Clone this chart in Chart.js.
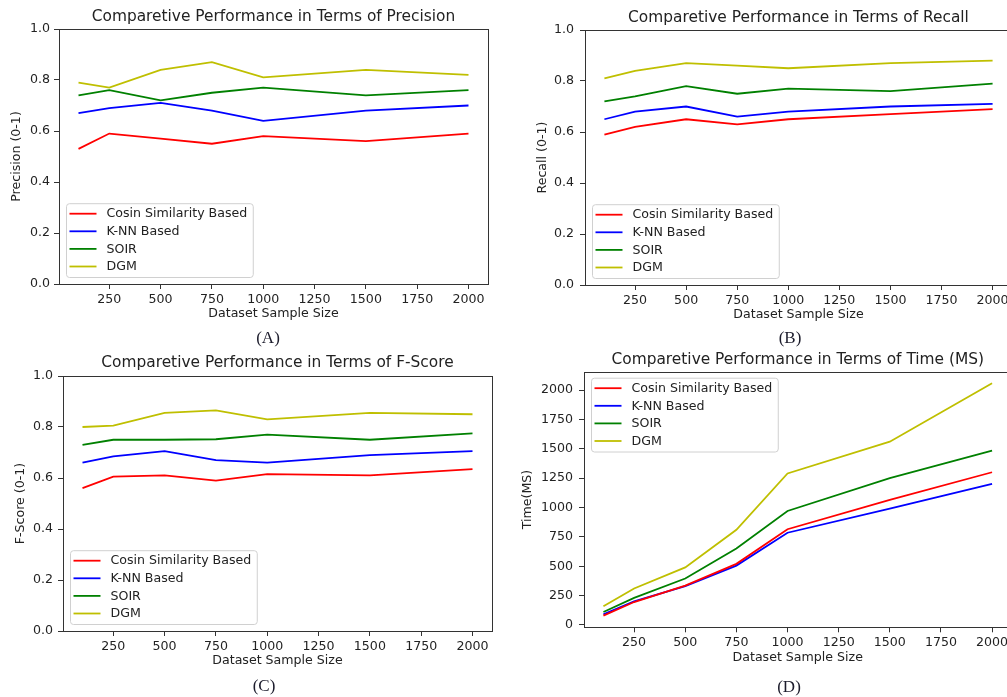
<!DOCTYPE html>
<html><head><meta charset="utf-8">
<script src="https://cdn.jsdelivr.net/npm/chart.js@4.4.0/dist/chart.umd.min.js"></script>
<style>
html,body{margin:0;padding:0;background:#fff;overflow:hidden;width:1007px;height:697px;position:relative;}
canvas{position:absolute;}
.cap{position:absolute;font-family:"Liberation Serif","DejaVu Serif",serif;font-size:17px;color:#1c1c2c;transform:translate(-50%,-50%);white-space:nowrap;}
</style></head><body>
<canvas id="cA" width="500" height="345" style="left:0;top:0;width:500px;height:345px"></canvas>
<canvas id="cB" width="520" height="345" style="left:500px;top:0;width:520px;height:345px"></canvas>
<canvas id="cC" width="500" height="352" style="left:0;top:345px;width:500px;height:352px"></canvas>
<canvas id="cD" width="520" height="352" style="left:500px;top:345px;width:520px;height:352px"></canvas>
<div class="cap" style="left:268px;top:338px">(A)</div>
<div class="cap" style="left:790px;top:338px">(B)</div>
<div class="cap" style="left:264px;top:686px">(C)</div>
<div class="cap" style="left:789px;top:687px">(D)</div>
<script>
// ---- data ----
const sampleSizes = [100, 250, 500, 750, 1000, 1500, 2000];
const seriesNames = ['Cosin Similarity Based', 'K-NN Based', 'SOIR', 'DGM'];
const seriesColors = ['#ff0000', '#0000ff', '#008000', '#bfbf00'];

const precisionCosine = [0.53, 0.59, 0.57, 0.55, 0.58, 0.56, 0.59];
const precisionKnn    = [0.67, 0.69, 0.71, 0.68, 0.64, 0.68, 0.70];
const precisionSoir   = [0.74, 0.76, 0.72, 0.75, 0.77, 0.74, 0.76];
const precisionDgm    = [0.79, 0.77, 0.84, 0.87, 0.81, 0.84, 0.82];

const recallCosine = [0.59, 0.62, 0.65, 0.63, 0.65, 0.67, 0.69];
const recallKnn    = [0.65, 0.68, 0.70, 0.66, 0.68, 0.70, 0.71];
const recallSoir   = [0.72, 0.74, 0.78, 0.75, 0.77, 0.76, 0.79];
const recallDgm    = [0.81, 0.84, 0.87, 0.86, 0.85, 0.87, 0.88];

const fscoreCosine = [0.56, 0.605, 0.61, 0.59, 0.615, 0.61, 0.635];
const fscoreKnn    = [0.66, 0.685, 0.705, 0.67, 0.66, 0.69, 0.705];
const fscoreSoir   = [0.73, 0.75, 0.75, 0.752, 0.77, 0.75, 0.775];
const fscoreDgm    = [0.80, 0.805, 0.855, 0.865, 0.83, 0.855, 0.85];

const timeCosine = [80, 195, 335, 520, 815, 1065, 1300];
const timeKnn    = [90, 200, 330, 505, 785, 990, 1200];
const timeSoir   = [110, 230, 395, 650, 970, 1250, 1485];
const timeDgm    = [160, 310, 490, 810, 1290, 1560, 2058];

const xTickValues = [250, 500, 750, 1000, 1250, 1500, 1750, 2000];
const scoreTickValues = [0, 0.2, 0.4, 0.6, 0.8, 1.0];
const timeTickValues = [0, 250, 500, 750, 1000, 1250, 1500, 1750, 2000];

// ---- plugins ----
const FONT = '"DejaVu Sans", "Liberation Sans", sans-serif';
const TXT = '#222222';
const AX = '#333333';
const FS = 12.6;

const framePlugin = {
  id: 'frame',
  afterDraw(chart) {
    const {ctx, chartArea: a} = chart;
    ctx.save();
    ctx.strokeStyle = AX; ctx.lineWidth = 1;
    ctx.strokeRect(Math.round(a.left) + 0.5, Math.round(a.top) + 0.5,
      Math.round(a.right) - Math.round(a.left), Math.round(a.bottom) - Math.round(a.top));
    ctx.restore();
  }
};

const insideLegend = {
  id: 'insideLegend',
  afterDatasetsDraw(chart, args, opts) {
    const {ctx, chartArea: a} = chart;
    const ds = chart.data.datasets;
    ctx.save();
    ctx.font = FS + 'px ' + FONT;
    const maxW = Math.max(...ds.map(d => ctx.measureText(d.label).width));
    const rowH = 17.6;
    const w = 40 + maxW + 6;
    const h = 10 + rowH * (ds.length - 1) + 11;
    const x = a.left + 7.5;
    const y = opts.pos === 'upper' ? a.top + 6.5 : a.bottom - 6.5 - h;
    const r = 3;
    ctx.beginPath();
    ctx.moveTo(x + r, y);
    ctx.arcTo(x + w, y, x + w, y + h, r);
    ctx.arcTo(x + w, y + h, x, y + h, r);
    ctx.arcTo(x, y + h, x, y, r);
    ctx.arcTo(x, y, x + w, y, r);
    ctx.closePath();
    ctx.fillStyle = 'rgba(255,255,255,0.8)';
    ctx.fill();
    ctx.strokeStyle = '#d0d0d0'; ctx.lineWidth = 1;
    ctx.stroke();
    ds.forEach((d, i) => {
      const yy = y + 10 + i * rowH;
      ctx.strokeStyle = d.borderColor; ctx.lineWidth = 1.8;
      ctx.beginPath(); ctx.moveTo(x + 3, yy); ctx.lineTo(x + 30, yy); ctx.stroke();
      ctx.fillStyle = TXT; ctx.textBaseline = 'middle'; ctx.textAlign = 'left';
      ctx.fillText(d.label, x + 40, yy + 0.5);
    });
    ctx.restore();
  }
};

function makeChart(id, cfg) {
  return new Chart(document.getElementById(id), {
    type: 'line',
    data: {
      datasets: cfg.series.map((vals, i) => ({
        label: seriesNames[i],
        data: sampleSizes.map((x, j) => ({x: x, y: vals[j]})),
        borderColor: seriesColors[i],
        backgroundColor: seriesColors[i],
        borderWidth: 1.8,
        pointRadius: 0,
        tension: 0,
        fill: false
      }))
    },
    options: {
      responsive: false,
      animation: false,
      events: [],
      layout: {padding: {left: 0, right: cfg.padRight, top: 0, bottom: 0}},
      plugins: {
        legend: {display: false},
        tooltip: {enabled: false},
        title: {
          display: true, text: cfg.title, fullSize: false, color: TXT,
          font: {family: FONT, size: 15.4, weight: 'normal', lineHeight: 1.2},
          padding: {top: cfg.titleTop, bottom: cfg.titleBottom}
        },
        insideLegend: {pos: cfg.legendPos}
      },
      scales: {
        x: {
          type: 'linear', min: 5, max: 2095,
          afterBuildTicks: s => { s.ticks = xTickValues.map(v => ({value: v})); },
          afterFit: s => { s.height = cfg.xAxisH; },
          grid: {display: true, drawOnChartArea: false, drawTicks: true, tickLength: 5, color: AX, tickColor: AX, tickWidth: 1},
          border: {display: false},
          ticks: {color: TXT, font: {family: FONT, size: FS}, padding: 3, maxRotation: 0, autoSkip: false,
                  callback: v => String(v)},
          title: {display: true, text: 'Dataset Sample Size', color: TXT,
                  font: {family: FONT, size: FS, lineHeight: 1.2}, padding: {top: 0, bottom: cfg.xTitlePad}}
        },
        y: {
          type: 'linear', min: cfg.yMin, max: cfg.yMax,
          afterBuildTicks: s => { s.ticks = cfg.yTicks.map(v => ({value: v})); },
          afterFit: s => { s.width = cfg.yAxisW; },
          grid: {display: true, drawOnChartArea: false, drawTicks: true, tickLength: 5, color: AX, tickColor: AX, tickWidth: 1},
          border: {display: false},
          ticks: {color: TXT, font: {family: FONT, size: FS}, padding: cfg.yTickPad, autoSkip: false,
                  callback: cfg.yFmt},
          title: {display: true, text: cfg.yTitle, color: TXT,
                  font: {family: FONT, size: FS, lineHeight: 1.2}, padding: {top: cfg.yTitlePad, bottom: 0}}
        }
      }
    },
    plugins: [framePlugin, insideLegend]
  });
}

const fmt1 = v => Number(v).toFixed(1);
const fmt0 = v => String(v);

makeChart('cA', {
  series: [precisionCosine, precisionKnn, precisionSoir, precisionDgm],
  title: 'Comparetive Performance in Terms of Precision', yTitle: 'Precision (0-1)',
  yMin: 0, yMax: 1, yTicks: scoreTickValues, yFmt: fmt1,
  padRight: 12, titleTop: 7.76, titleBottom: 2.76, xAxisH: 61, xTitlePad: 23.44,
  yAxisW: 59, yTitlePad: 9.44, yTickPad: 4, legendPos: 'lower'
});
makeChart('cB', {
  series: [recallCosine, recallKnn, recallSoir, recallDgm],
  title: 'Comparetive Performance in Terms of Recall', yTitle: 'Recall (0-1)',
  yMin: 0, yMax: 1, yTicks: scoreTickValues, yFmt: fmt1,
  padRight: 8, titleTop: 8.76, titleBottom: 2.76, xAxisH: 60, xTitlePad: 22.44,
  yAxisW: 85, yTitlePad: 35.44, yTickPad: 6, legendPos: 'lower'
});
makeChart('cC', {
  series: [fscoreCosine, fscoreKnn, fscoreSoir, fscoreDgm],
  title: 'Comparetive Performance in Terms of F-Score', yTitle: 'F-Score (0-1)',
  yMin: 0, yMax: 1, yTicks: scoreTickValues, yFmt: fmt1,
  padRight: 8, titleTop: 9.06, titleBottom: 3.46, xAxisH: 66, xTitlePad: 28.74,
  yAxisW: 63, yTitlePad: 13.44, yTickPad: 5, legendPos: 'lower'
});
makeChart('cD', {
  series: [timeCosine, timeKnn, timeSoir, timeDgm],
  title: 'Comparetive Performance in Terms of Time (MS)', yTitle: 'Time(MS)',
  yMin: -20, yMax: 2156, yTicks: timeTickValues, yFmt: fmt0,
  padRight: 8.5, titleTop: 5.76, titleBottom: 2.46, xAxisH: 69.7, xTitlePad: 32.14,
  yAxisW: 84, yTitlePad: 20.44, yTickPad: 6, legendPos: 'upper'
});
</script>
</body></html>
